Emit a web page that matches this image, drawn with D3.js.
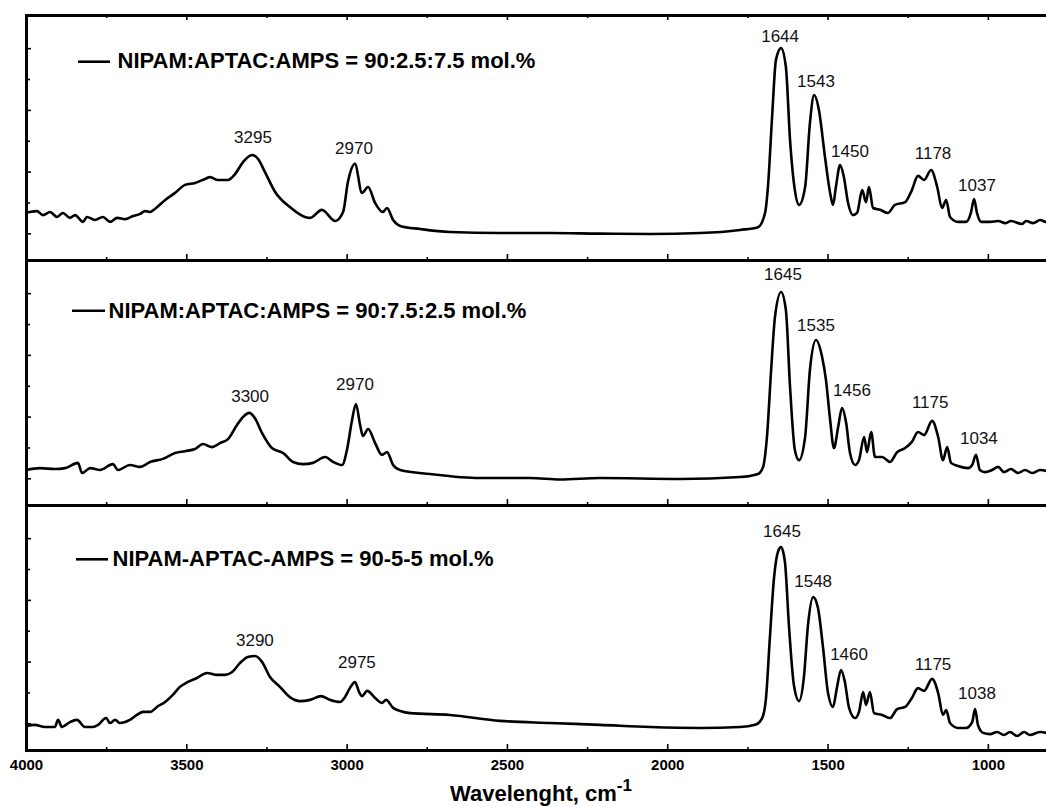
<!DOCTYPE html>
<html>
<head>
<meta charset="utf-8">
<script src="https://cdn.jsdelivr.net/npm/d3@7"></script>
<style>
body { margin: 0; background: #fff; }
svg { display: block; }
text { font-family: Arial, "Liberation Sans", sans-serif; }
</style>
</head>
<body>
<div id="chart"></div>
<script>
// spectra: wavenumber (cm-1) and absorbance (a.u.)
var wnA = [4000,3988,3966,3947,3925,3903,3885,3863,3847,3822,3810,3785,3760,3738,3716,3691,3666,3644,3629,3613,3598,3566,3535,3504,3473,3442,3426,3401,3370,3348,3323,3295,3276,3255,3223,3177,3130,3114,3077,3036,3011,2996,2974,2952,2933,2911,2887,2874,2855,2833,2771,2678,2522,2366,2210,2054,1898,1773,1717,1695,1686,1673,1661,1645,1630,1617,1602,1589,1570,1555,1542,1527,1508,1492,1483,1474,1461,1449,1436,1421,1408,1392,1380,1371,1358,1336,1312,1290,1258,1237,1218,1199,1177,1158,1143,1130,1118,1093,1068,1053,1043,1034,1021,993,968,946,928,894,881,859,837,819,806];
var absA = [0.066,0.069,0.072,0.059,0.069,0.053,0.066,0.050,0.059,0.037,0.053,0.043,0.053,0.037,0.050,0.046,0.056,0.063,0.072,0.069,0.079,0.108,0.131,0.157,0.163,0.176,0.182,0.173,0.173,0.192,0.231,0.254,0.241,0.199,0.134,0.085,0.053,0.050,0.076,0.040,0.069,0.166,0.225,0.131,0.150,0.098,0.069,0.082,0.043,0.024,0.014,0.004,0.001,0.001,-0.001,-0.002,0.001,0.011,0.020,0.066,0.150,0.377,0.562,0.600,0.539,0.302,0.140,0.092,0.150,0.357,0.448,0.400,0.247,0.131,0.092,0.150,0.221,0.182,0.098,0.059,0.066,0.140,0.101,0.150,0.082,0.076,0.066,0.092,0.101,0.140,0.186,0.173,0.205,0.150,0.082,0.108,0.053,0.037,0.037,0.066,0.111,0.066,0.037,0.037,0.040,0.033,0.040,0.030,0.040,0.033,0.043,0.037,0.040];

var wnB = [4000,3956,3910,3878,3838,3825,3800,3769,3729,3713,3676,3644,3613,3573,3535,3504,3473,3448,3420,3395,3370,3342,3320,3304,3286,3264,3233,3198,3167,3136,3105,3067,3042,3014,2999,2983,2971,2958,2949,2933,2911,2890,2874,2855,2833,2740,2584,2428,2334,2210,1960,1773,1717,1701,1689,1676,1664,1645,1630,1617,1602,1589,1570,1555,1536,1517,1505,1492,1480,1467,1455,1442,1430,1414,1402,1386,1377,1364,1352,1330,1305,1283,1258,1237,1218,1199,1174,1155,1140,1127,1115,1093,1062,1049,1037,1025,1009,987,968,950,928,906,884,862,837,806];
var absB = [0.027,0.033,0.030,0.033,0.050,0.017,0.033,0.027,0.046,0.027,0.043,0.037,0.053,0.063,0.082,0.088,0.095,0.111,0.101,0.114,0.127,0.173,0.202,0.212,0.195,0.147,0.098,0.082,0.053,0.046,0.050,0.069,0.053,0.043,0.092,0.189,0.241,0.173,0.137,0.160,0.114,0.076,0.085,0.043,0.027,0.014,0.001,0.001,-0.004,0.001,-0.002,0.004,0.014,0.037,0.134,0.351,0.523,0.604,0.545,0.296,0.092,0.059,0.134,0.351,0.448,0.393,0.319,0.189,0.098,0.166,0.228,0.179,0.082,0.043,0.059,0.134,0.085,0.150,0.069,0.069,0.053,0.085,0.098,0.118,0.150,0.140,0.186,0.134,0.059,0.101,0.050,0.040,0.033,0.043,0.076,0.027,0.020,0.027,0.037,0.020,0.030,0.017,0.027,0.017,0.027,0.020];

var wnC = [4000,3972,3941,3910,3900,3888,3863,3841,3816,3791,3775,3750,3738,3722,3707,3676,3654,3635,3613,3588,3566,3542,3520,3495,3467,3435,3404,3379,3357,3333,3308,3286,3264,3239,3208,3177,3145,3114,3080,3052,3021,3005,2990,2974,2961,2952,2936,2911,2890,2877,2855,2833,2802,2678,2522,2366,2210,2054,1898,1773,1726,1704,1692,1680,1667,1655,1645,1633,1620,1605,1589,1574,1561,1545,1530,1514,1499,1483,1471,1458,1446,1433,1414,1402,1389,1380,1368,1355,1330,1305,1283,1258,1237,1218,1199,1174,1155,1140,1130,1118,1093,1068,1049,1040,1031,1015,993,971,950,931,909,887,869,837,806];
var absC = [-0.009,-0.005,-0.012,-0.012,0.011,-0.012,0.004,0.011,-0.012,-0.012,-0.005,0.017,0.001,0.011,0.001,0.011,0.027,0.037,0.037,0.056,0.069,0.092,0.118,0.134,0.147,0.163,0.157,0.157,0.166,0.195,0.215,0.218,0.199,0.150,0.118,0.085,0.072,0.076,0.088,0.076,0.069,0.085,0.114,0.134,0.101,0.088,0.105,0.082,0.066,0.076,0.050,0.040,0.033,0.027,0.008,0.001,-0.005,-0.012,-0.015,-0.012,-0.005,0.017,0.082,0.276,0.471,0.555,0.571,0.523,0.309,0.124,0.072,0.147,0.319,0.409,0.374,0.244,0.101,0.053,0.114,0.173,0.134,0.050,0.017,0.037,0.101,0.059,0.101,0.033,0.027,0.017,0.046,0.053,0.082,0.114,0.105,0.144,0.098,0.027,0.043,0.001,-0.015,-0.015,0.004,0.046,-0.005,-0.031,-0.035,-0.028,-0.038,-0.028,-0.041,-0.028,-0.038,-0.028,-0.035];

// peak annotations (text, and where the text sits in data units)
var peakTextA = ["3295","2970","1644","1543","1450","1178","1037"];
var peakWnA   = [3292,2977,1648,1536,1430,1171,1034];
var peakAbsA  = [0.293,0.257,0.620,0.474,0.247,0.241,0.137];
var peakTextB = ["3300","2970","1645","1535","1456","1175","1034"];
var peakWnB   = [3301,2974,1639,1536,1424,1180,1028];
var peakAbsB  = [0.247,0.286,0.643,0.477,0.267,0.228,0.111];
var peakTextC = ["3290","2975","1645","1548","1460","1175","1038"];
var peakWnC   = [3286,2968,1642,1545,1433,1171,1034];
var peakAbsC  = [0.250,0.180,0.604,0.442,0.205,0.173,0.079];

var seriesNames = ["NIPAM:APTAC:AMPS = 90:2.5:7.5 mol.%",
                   "NIPAM:APTAC:AMPS = 90:7.5:2.5 mol.%",
                   "NIPAM-APTAC-AMPS = 90-5-5 mol.%"];

var xMajor = [4000, 3500, 3000, 2500, 2000, 1500, 1000];
var xMinor = [3750, 3250, 2750, 2250, 1750, 1250];
var yMajor = [0, 0.2, 0.4, 0.6];
var yMinor = [0.1, 0.3, 0.5];

var width = 1046, height = 807;
var top0 = 15, panelH = 245;

var x = d3.scaleLinear().domain([4000, 800]).range([26, 1052]);
var y = d3.scaleLinear().domain([-0.0865, 0.7075]).range([panelH, 0]);

var svg = d3.select("#chart").append("svg")
    .attr("width", width)
    .attr("height", height);

var panels = [
  {wn: wnA, ab: absA, pt: peakTextA, pw: peakWnA, pa: peakAbsA, leg: [78, 110, 46.7, 117.5, 52.7]},
  {wn: wnB, ab: absB, pt: peakTextB, pw: peakWnB, pa: peakAbsB, leg: [72, 105, 50.7, 108.5, 58.3]},
  {wn: wnC, ab: absC, pt: peakTextC, pw: peakWnC, pa: peakAbsC, leg: [76, 108, 54.3, 112.5, 61]}
];

var line = d3.line()
    .x(function(d) { return x(d[0]); })
    .y(function(d) { return y(d[1]); })
    .curve(d3.curveMonotoneX);

function styleAxis(g, w) {
  g.select(".domain").attr("stroke", "#000").attr("stroke-width", w).attr("stroke-linecap", "square");
  g.selectAll(".tick line").attr("stroke", "#000").attr("stroke-width", 1.6);
}

panels.forEach(function(p, i) {
  var g = svg.append("g").attr("transform", "translate(0," + (top0 + i * panelH) + ")");

  g.append("path")
      .datum(d3.zip(p.wn, p.ab))
      .attr("fill", "none")
      .attr("stroke", "#000")
      .attr("stroke-width", 2.6)
      .attr("stroke-linejoin", "round")
      .attr("d", line);

  // peak labels
  g.selectAll(".peak")
      .data(p.pt)
    .enter().append("text")
      .attr("class", "peak")
      .attr("x", function(d, k) { return x(p.pw[k]); })
      .attr("y", function(d, k) { return y(p.pa[k]); })
      .attr("text-anchor", "middle")
      .attr("font-size", 17)
      .attr("fill", "#111")
      .text(function(d) { return d; });

  // legend
  g.append("line")
      .attr("x1", p.leg[0]).attr("x2", p.leg[1])
      .attr("y1", p.leg[2]).attr("y2", p.leg[2])
      .attr("stroke", "#000").attr("stroke-width", 2.6);
  g.append("text")
      .attr("x", p.leg[3]).attr("y", p.leg[4])
      .attr("font-size", 22).attr("font-weight", "bold")
      .text(seriesNames[i]);

  // bottom axis, ticks pointing in
  var gm = g.append("g").attr("transform", "translate(0," + panelH + ")")
      .call(d3.axisBottom(x).tickValues(xMinor).tickSize(-3).tickSizeOuter(0).tickFormat(""));
  styleAxis(gm, 3);
  var gb = g.append("g").attr("transform", "translate(0," + panelH + ")")
      .call(d3.axisBottom(x).tickValues(xMajor).tickSize(-6).tickSizeOuter(0).tickPadding(9)
            .tickFormat(i == 2 ? d3.format("d") : ""));
  styleAxis(gb, 3);
  gb.selectAll("text").attr("font-size", 15).attr("font-weight", "bold")
      .attr("fill", "#000").style("font-family", "Arial, 'Liberation Sans', sans-serif");

  // left axis
  var gl = g.append("g").attr("transform", "translate(26,0)")
      .call(d3.axisLeft(y).tickValues(yMajor).tickSize(-5).tickSizeOuter(0).tickFormat(""));
  styleAxis(gl, 3);
  var gl2 = g.append("g").attr("transform", "translate(26,0)")
      .call(d3.axisLeft(y).tickValues(yMinor).tickSize(-4).tickSizeOuter(0).tickFormat(""));
  styleAxis(gl2, 3);

  if (i == 0) {
    var gt = g.append("g")
        .call(d3.axisTop(x).tickValues(xMajor).tickSize(-5).tickSizeOuter(0).tickFormat(""));
    styleAxis(gt, 3);
    var gt2 = g.append("g")
        .call(d3.axisTop(x).tickValues(xMinor).tickSize(-3).tickSizeOuter(0).tickFormat(""));
    styleAxis(gt2, 3);
  }
});

// x axis title
var title = svg.append("text")
    .attr("x", 541).attr("y", 801)
    .attr("text-anchor", "middle")
    .attr("font-size", 22).attr("font-weight", "bold");
title.append("tspan").text("Wavelenght, cm");
title.append("tspan").attr("font-size", 17).attr("dy", -10).text("-1");
</script>
</body>
</html>
